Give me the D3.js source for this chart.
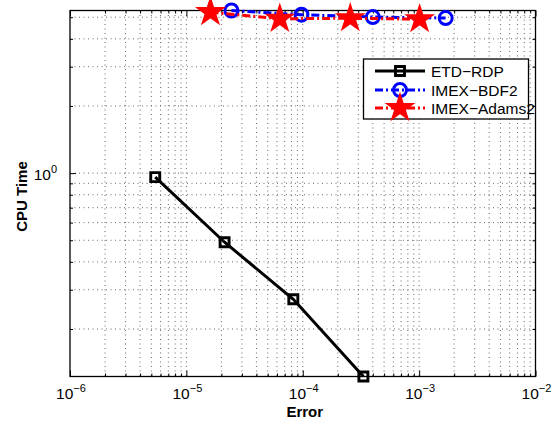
<!DOCTYPE html>
<html>
<head>
<meta charset="utf-8">
<script src="https://cdn.jsdelivr.net/npm/d3@7"></script>
<style>
  body { margin: 0; background: #fff; }
  text { font-family: "Liberation Sans", Arial, Helvetica, sans-serif; fill: #000; }
</style>
</head>
<body>
<svg id="chart" width="554" height="425"></svg>
<script>
// Error vs. CPU time for three time-stepping schemes
const seriesNames = ["ETD\u2212RDP", "IMEX\u2212BDF2", "IMEX\u2212Adams2"];
const etdError   = [5.4e-6, 2.13e-5, 8.3e-5, 3.32e-4];
const etdTime    = [0.96, 0.49, 0.272, 0.1225];
const bdf2Error  = [2.44e-5, 9.75e-5, 4.0e-4, 1.69e-3];
const bdf2Time   = [5.36, 5.13, 5.01, 4.96];
const adamsError = [1.61e-5, 6.35e-5, 2.56e-4, 1.01e-3];
const adamsTime  = [5.27, 4.92, 4.95, 4.9];
const xTickExponents = [-6, -5, -4, -3, -2];
const yTickExponents = [0];
const xTitle = "Error";
const yTitle = "CPU Time";

const svg = d3.select("#chart");
const plot = { left: 70, right: 535.5, top: 10.5, bottom: 376.5 };

const allTimes = etdTime.concat(bdf2Time, adamsTime);
const x = d3.scaleLog().domain([1e-6, 1e-2]).range([plot.left, plot.right]);
const y = d3.scaleLog().domain(d3.extent(allTimes)).range([plot.bottom, plot.top]);

// Major and minor (2..9 per decade) positions inside each domain
function logGrid(domain) {
  const lo = domain[0], hi = domain[1];
  const major = [], minor = [];
  for (let k = Math.floor(Math.log10(lo)) - 1; k <= Math.ceil(Math.log10(hi)); k++) {
    for (let m = 1; m <= 9; m++) {
      const v = m * Math.pow(10, k);
      if (v < lo * 0.9999 || v > hi * 1.0001) continue;
      (m === 1 ? major : minor).push(v);
    }
  }
  return { major, minor };
}
const xg = logGrid(x.domain());
const yg = logGrid(y.domain());

// Dotted grid
const grid = svg.append("g")
  .attr("stroke", "#444").attr("stroke-width", 1)
  .attr("stroke-dasharray", "1,3.5").attr("opacity", 0.8);
grid.selectAll("line.vx").data(xg.major.concat(xg.minor)
    .filter(v => x(v) > plot.left + 1 && x(v) < plot.right - 1))
  .join("line").attr("class", "vx")
  .attr("x1", d => x(d)).attr("x2", d => x(d))
  .attr("y1", plot.top).attr("y2", plot.bottom);
grid.selectAll("line.hy").data(yg.major.concat(yg.minor)
    .filter(v => y(v) > plot.top + 1 && y(v) < plot.bottom - 1))
  .join("line").attr("class", "hy")
  .attr("y1", d => y(d)).attr("y2", d => y(d))
  .attr("x1", plot.left).attr("x2", plot.right);

// Inward ticks on all four sides
function ticks(axisFn, scale, values, size, transform) {
  const g = svg.append("g").attr("transform", transform)
    .call(axisFn(scale).tickValues(values).tickSize(size).tickFormat(""));
  g.select(".domain").remove();
  g.selectAll(".tick line").attr("stroke", "#000").attr("stroke-width", 1);
}
ticks(d3.axisBottom, x, xg.major, -6, `translate(0,${plot.bottom})`);
ticks(d3.axisBottom, x, xg.minor, -3, `translate(0,${plot.bottom})`);
ticks(d3.axisTop, x, xg.major, -6, `translate(0,${plot.top})`);
ticks(d3.axisTop, x, xg.minor, -3, `translate(0,${plot.top})`);
ticks(d3.axisLeft, y, yg.major, -6, `translate(${plot.left},0)`);
ticks(d3.axisLeft, y, yg.minor, -3, `translate(${plot.left},0)`);
ticks(d3.axisRight, y, yg.major, -6, `translate(${plot.right},0)`);
ticks(d3.axisRight, y, yg.minor, -3, `translate(${plot.right},0)`);

// Frame
svg.append("rect")
  .attr("x", plot.left).attr("y", plot.top)
  .attr("width", plot.right - plot.left).attr("height", plot.bottom - plot.top)
  .attr("fill", "none").attr("stroke", "#000").attr("stroke-width", 1.3);

// Tick labels as 10 with superscript exponent
function powerLabel(sel, e) {
  sel.append("tspan").text("10");
  sel.append("tspan").attr("dy", -7).attr("font-size", 11)
    .text(e < 0 ? "\u2212" + (-e) : String(e));
}
xTickExponents.forEach(e => {
  svg.append("text").attr("x", x(Math.pow(10, e)) + 1).attr("y", 399)
    .attr("text-anchor", "middle").attr("font-size", 15.5)
    .call(powerLabel, e);
});
yTickExponents.forEach(e => {
  svg.append("text").attr("x", 57).attr("y", y(Math.pow(10, e)) + 7)
    .attr("text-anchor", "end").attr("font-size", 15.5)
    .call(powerLabel, e);
});

// Axis titles
svg.append("text").attr("x", (plot.left + plot.right) / 2 + 2).attr("y", 417)
  .attr("text-anchor", "middle").attr("font-size", 15).attr("font-weight", "bold")
  .text(xTitle);
svg.append("text")
  .attr("transform", `translate(27,${(plot.top + plot.bottom) / 2 + 3}) rotate(-90)`)
  .attr("text-anchor", "middle").attr("font-size", 15).attr("font-weight", "bold")
  .text(yTitle);

// Series definitions
const series = [
  { name: seriesNames[0], err: etdError, time: etdTime, color: "#000",
    dash: null, symbol: d3.symbolSquare, size: 81, filled: false },
  { name: seriesNames[1], err: bdf2Error, time: bdf2Time, color: "#0000ff",
    dash: "8,3,2,3", symbol: d3.symbolCircle, size: 133, filled: false },
  { name: seriesNames[2], err: adamsError, time: adamsTime, color: "#ff0000",
    dash: "8,3,2,3", symbol: d3.symbolStar, size: 150, filled: true }
];

const line = d3.line().x(d => x(d[0])).y(d => y(d[1]));
series.forEach(s => {
  const pts = s.err.map((e, i) => [e, s.time[i]]);
  svg.append("path").datum(pts)
    .attr("d", line).attr("fill", "none")
    .attr("stroke", s.color).attr("stroke-width", 3)
    .attr("stroke-dasharray", s.dash);
  svg.append("g").selectAll("path").data(pts).join("path")
    .attr("transform", d => `translate(${x(d[0])},${y(d[1])})`)
    .attr("d", d3.symbol(s.symbol, s.size))
    .attr("fill", s.filled ? s.color : "none")
    .attr("stroke", s.color).attr("stroke-width", 2.9);
});

// Legend
const legend = svg.append("g");
legend.append("rect")
  .attr("x", 363.5).attr("y", 59).attr("width", 165).attr("height", 60)
  .attr("fill", "#fff").attr("stroke", "#000").attr("stroke-width", 1.3);
const rowY = [71, 90, 108];
series.forEach((s, i) => {
  const g = legend.append("g").attr("transform", `translate(0,${rowY[i]})`);
  g.append("line").attr("x1", 375).attr("x2", 425)
    .attr("stroke", s.color).attr("stroke-width", 3)
    .attr("stroke-dasharray", s.dash);
  g.append("path").attr("transform", "translate(400,0)")
    .attr("d", d3.symbol(s.symbol, s.size))
    .attr("fill", s.filled ? s.color : "none")
    .attr("stroke", s.color).attr("stroke-width", 2.9);
  g.append("text").attr("x", 431).attr("y", 5.5).attr("font-size", 15.5)
    .text(s.name);
});
</script>
</body>
</html>
